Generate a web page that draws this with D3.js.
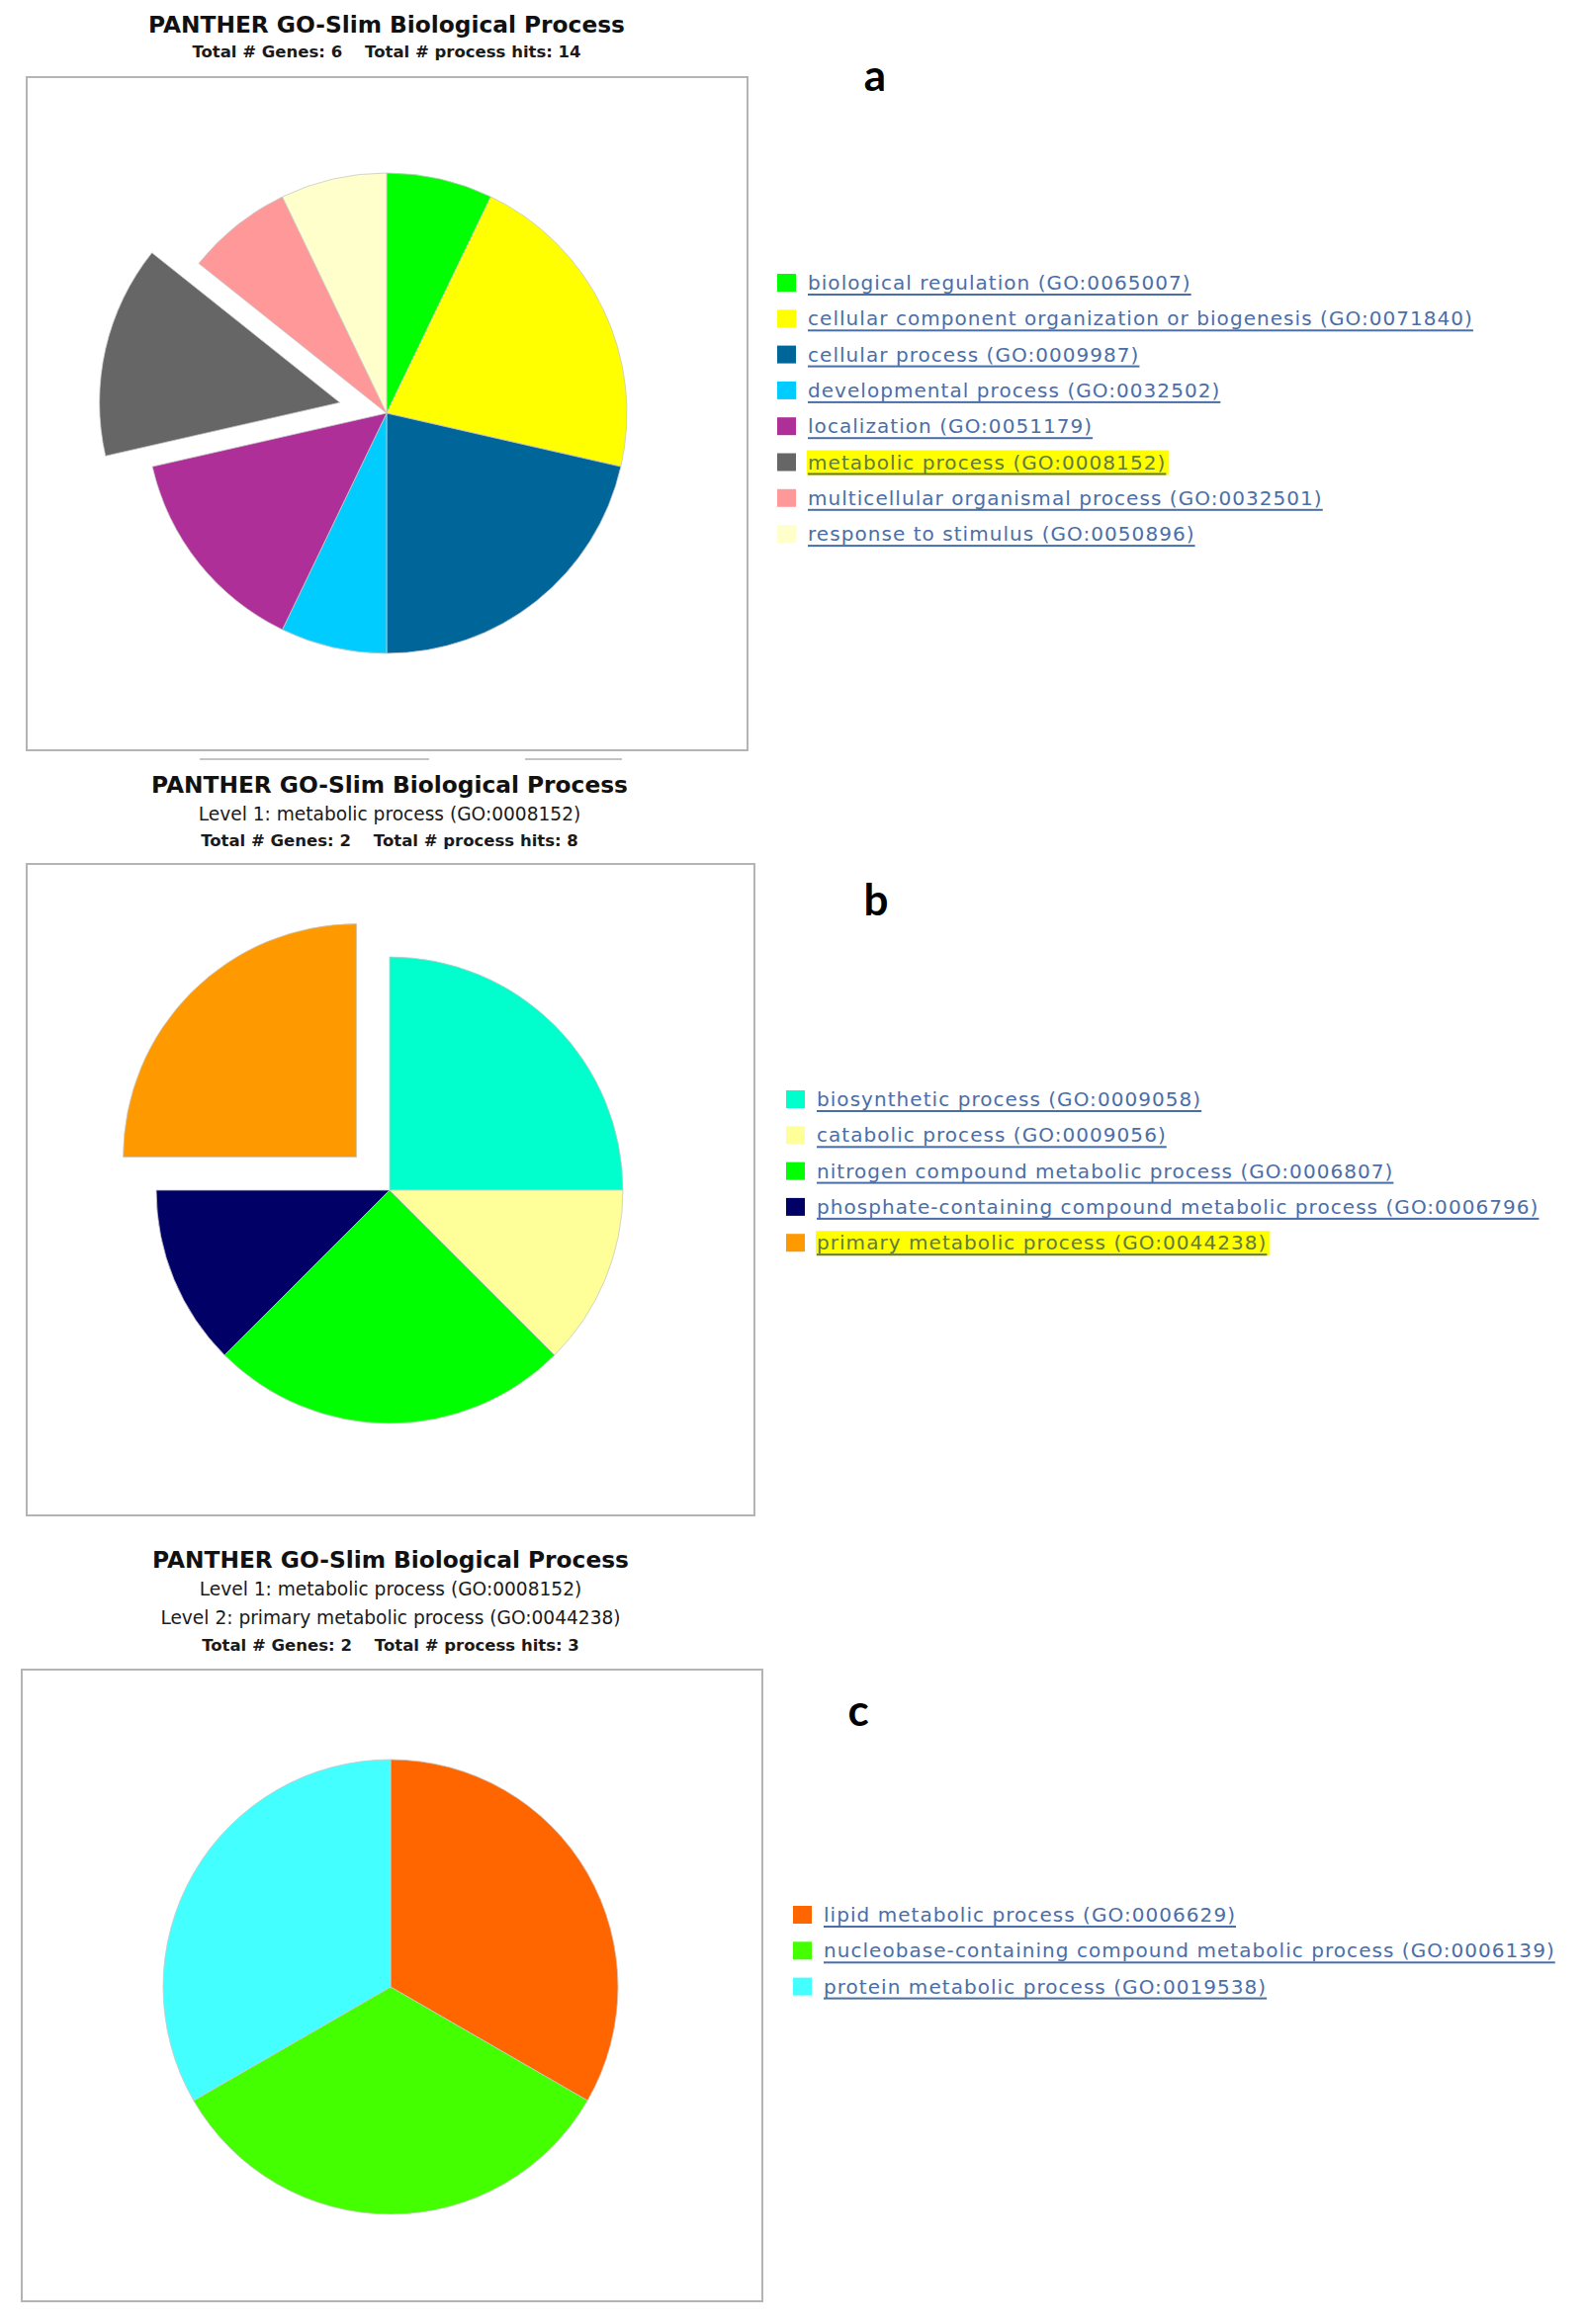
<!DOCTYPE html>
<html>
<head>
<meta charset="utf-8">
<script src="https://cdn.jsdelivr.net/npm/d3@7"></script>
<style>
  body { margin: 0; background: #fff; }
  svg { display: block; }
</style>
</head>
<body>
<div id="chart"></div>
<script>

var chart_title = "PANTHER GO-Slim Biological Process";

/* Panel a : all level-0 processes */
var a_terms = [
    "biological regulation (GO:0065007)",
    "cellular component organization or biogenesis (GO:0071840)",
    "cellular process (GO:0009987)",
    "developmental process (GO:0032502)",
    "localization (GO:0051179)",
    "metabolic process (GO:0008152)",
    "multicellular organismal process (GO:0032501)",
    "response to stimulus (GO:0050896)"
];
var a_hits = [1, 3, 3, 1, 2, 2, 1, 1];
var a_colors = ["#00ff00", "#ffff00", "#006699", "#00ccff", "#ae2f98", "#666666", "#ff9999", "#ffffcc"];
var a_header = ["Total # Genes: 6\u00a0\u00a0\u00a0\u00a0Total # process hits: 14"];
var a_selected = "metabolic process (GO:0008152)";

/* Panel b : level 1, metabolic process */
var b_terms = [
    "biosynthetic process (GO:0009058)",
    "catabolic process (GO:0009056)",
    "nitrogen compound metabolic process (GO:0006807)",
    "phosphate-containing compound metabolic process (GO:0006796)",
    "primary metabolic process (GO:0044238)"
];
var b_hits = [2, 1, 2, 1, 2];
var b_colors = ["#00ffcc", "#ffff99", "#00ff00", "#000066", "#ff9900"];
var b_header = [
    "Level 1: metabolic process (GO:0008152)",
    "Total # Genes: 2\u00a0\u00a0\u00a0\u00a0Total # process hits: 8"
];
var b_selected = "primary metabolic process (GO:0044238)";

/* Panel c : level 2, primary metabolic process */
var c_terms = [
    "lipid metabolic process (GO:0006629)",
    "nucleobase-containing compound metabolic process (GO:0006139)",
    "protein metabolic process (GO:0019538)"
];
var c_hits = [1, 1, 1];
var c_colors = ["#ff6600", "#44ff00", "#44ffff"];
var c_header = [
    "Level 1: metabolic process (GO:0008152)",
    "Level 2: primary metabolic process (GO:0044238)",
    "Total # Genes: 2\u00a0\u00a0\u00a0\u00a0Total # process hits: 3"
];
var c_selected = null;


var width = 1604, height = 2351;

var svg = d3.select("#chart").append("svg")
    .attr("width", width)
    .attr("height", height);

// layout for each panel (pixels)
var panels = [
    { terms: a_terms, hits: a_hits, colors: a_colors, header: a_header, selected: a_selected,
      letter: "a", letter_pos: [885, 75],
      title_y: 24, header_y: [52],
      frame: [27, 78, 729, 681],
      cx: 391, cy: 418, r: 243,
      legend_x: 786, legend_y: 286 },
    { terms: b_terms, hits: b_hits, colors: b_colors, header: b_header, selected: b_selected,
      letter: "b", letter_pos: [886, 909],
      title_y: 793, header_y: [823, 850],
      frame: [27, 874, 736, 659],
      cx: 394, cy: 1204, r: 236,
      legend_x: 795, legend_y: 1112 },
    { terms: c_terms, hits: c_hits, colors: c_colors, header: c_header, selected: c_selected,
      letter: "c", letter_pos: [868, 1729],
      title_y: 1577, header_y: [1607, 1636, 1664],
      frame: [22, 1689, 749, 639],
      cx: 395, cy: 2010, r: 230,
      legend_x: 802, legend_y: 1937 }
];

var draw_panel = function (p) {
    var g = svg.append("g");

    // title + header lines
    g.append("text")
        .attr("x", p.cx).attr("y", p.title_y)
        .attr("text-anchor", "middle")
        .attr("dominant-baseline", "central")
        .style("font-family", "DejaVu Sans")
        .style("font-weight", "bold")
        .style("font-size", "23.3px")
        .attr("fill", "#111")
        .text(chart_title);

    p.header.forEach(function (line, i) {
        var is_total = line.indexOf("Total") === 0;
        g.append("text")
            .attr("x", p.cx).attr("y", p.header_y[i])
            .attr("text-anchor", "middle")
            .attr("dominant-baseline", "central")
            .style("font-family", "DejaVu Sans")
            .style("font-weight", is_total ? "bold" : "normal")
            .style("font-size", is_total ? "16.5px" : "18.6px")
            .attr("fill", "#1a1a1a")
            .text(line);
    });

    // chart frame
    g.append("rect")
        .attr("x", p.frame[0]).attr("y", p.frame[1])
        .attr("width", p.frame[2]).attr("height", p.frame[3])
        .attr("fill", "#fff")
        .attr("stroke", "#b4b4b4")
        .attr("stroke-width", 2);

    // pie
    var data = p.terms.map(function (t, i) { return { term: t, hits: p.hits[i] }; });
    var color = d3.scaleOrdinal().domain(p.terms).range(p.colors);
    var pie = d3.pie().sort(null).value(function (d) { return d.hits; });
    var arc = d3.arc().innerRadius(0).outerRadius(p.r);
    var explode = p.r * 0.2;

    g.append("g")
        .attr("transform", "translate(" + p.cx + "," + p.cy + ")")
        .selectAll("path")
        .data(pie(data))
        .enter().append("path")
            .attr("d", arc)
            .attr("fill", function (d) { return color(d.data.term); })
            .attr("stroke", "#c8c8c8")
            .attr("stroke-width", 0.8)
            .attr("transform", function (d) {
                if (d.data.term !== p.selected) return null;
                var mid = (d.startAngle + d.endAngle) / 2;
                return "translate(" + (Math.sin(mid) * explode) + "," + (-Math.cos(mid) * explode) + ")";
            });

    // legend
    var row = 36.3;
    var legend = g.append("g")
        .selectAll("g")
        .data(data)
        .enter().append("g")
            .attr("transform", function (d, i) {
                return "translate(" + p.legend_x + "," + (p.legend_y + i * row) + ")";
            });

    legend.append("rect")
        .attr("x", 0).attr("y", -9)
        .attr("width", 19).attr("height", 18)
        .attr("fill", function (d) { return color(d.term); });

    legend.append("text")
        .attr("x", 31).attr("y", 0)
        .attr("dominant-baseline", "central")
        .style("font-family", "DejaVu Sans")
        .style("font-size", "20px")
        .style("letter-spacing", "1.05px")
        .style("text-decoration", "underline")
        .attr("fill", function (d) { return d.term === p.selected ? "#5f7a45" : "#4a6ea8"; })
        .text(function (d) { return d.term; })
        .each(function (d) {
            if (d.term !== p.selected) return;
            var bb = this.getBBox();
            d3.select(this.parentNode).insert("rect", "text")
                .attr("x", bb.x - 1).attr("y", -12)
                .attr("width", bb.width + 4).attr("height", 25)
                .attr("fill", "#ffff00");
        });

    // panel letter
    g.append("text")
        .attr("x", p.letter_pos[0]).attr("y", p.letter_pos[1])
        .attr("text-anchor", "middle")
        .attr("dominant-baseline", "central")
        .style("font-family", "Lato")
        .style("font-weight", "bold")
        .style("font-size", "44px")
        .attr("fill", "#000")
        .text(p.letter);
};

panels.forEach(draw_panel);

// leftover rules under the first frame
svg.append("g").selectAll("line")
    .data([[202, 434], [531, 629]])
    .enter().append("line")
        .attr("x1", function (d) { return d[0]; })
        .attr("x2", function (d) { return d[1]; })
        .attr("y1", 768).attr("y2", 768)
        .attr("stroke", "#c4c4c4")
        .attr("stroke-width", 2);

</script>
</body>
</html>
